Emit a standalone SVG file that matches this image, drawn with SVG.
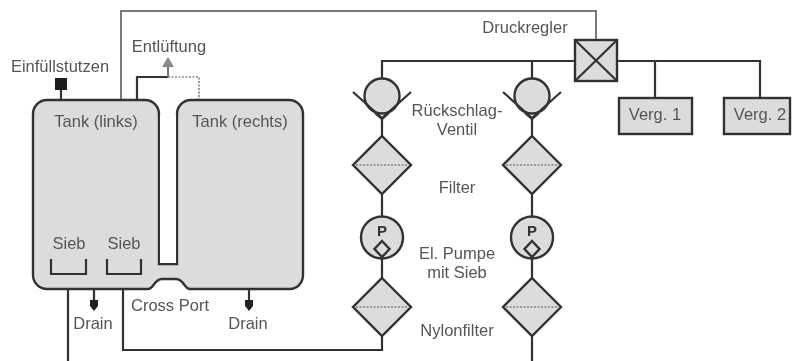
<svg xmlns="http://www.w3.org/2000/svg" width="792" height="361" viewBox="0 0 792 361">
<style>
text{font-family:"Liberation Sans",Arial,sans-serif;font-size:16.500px;fill:#555;text-anchor:middle}
.l{fill:none;stroke:#333;stroke-width:2.200}
.g{fill:#dcdcdc;stroke:#333;stroke-width:2.400}
.d{fill:none;stroke:#555;stroke-width:1.200;stroke-dasharray:2 1.500}
</style>
<defs>
<filter id="soft" x="0" y="0" width="100%" height="100%"><feGaussianBlur stdDeviation="0.550"/></filter>
<g id="check"><circle cx="0" cy="96" r="17.500" class="g"/><path class="l" d="M-29 92L0 118L29 92M-7 113L0 119L7 113"/></g>
<g id="filter"><path class="g" d="M0 -29L29 0L0 29L-29 0Z"/><path class="d" d="M-26 0H26"/></g>
<g id="pump"><circle cx="0" cy="237.500" r="21" class="g"/><path class="g" d="M0 241L7.500 249L0 257L-7.500 249Z"/><text x="0" y="236" style="font-weight:bold;font-size:15px;fill:#333">P</text></g>
</defs>
<g id="diagram" filter="url(#soft)">
<rect width="792" height="361" fill="#fff"/>
<g id="connectors">
<path d="M121 100V11H596V40" fill="none" stroke="#7a7a7a" stroke-width="2"/>
<path class="l" d="M61 100V88M137 100V77H168"/>
<path d="M168 77V64" stroke="#777" stroke-width="2"/>
<path d="M168 57L174 67H162Z" fill="#888"/>
<path class="d" d="M168 77H199V100" stroke-width="1.500"/>
<path class="l" d="M68 274V361M123 274V350H382V336"/>
<path class="l" d="M94 289V300M249 289V300"/>
<path d="M90 300H98V306L94 311L90 306Z" fill="#222"/>
<path d="M245 300H253V306L249 311L245 306Z" fill="#222"/>
<path class="l" d="M382 79V61H575M532 61V79M382 118V137M532 118V137M382 194V216M532 194V216M382 259V278M532 259V278M532 336V361"/>
<path class="l" d="M617 61H760V98M655 61V98"/>
</g>
<g id="tanks">
<path class="g" d="M33 114V275A14 14 0 0 0 47 289H148C154 289 154 279 162 279H176C184 279 184 289 190 289H290A13 14 0 0 0 303 275V114A14 14 0 0 0 289 100H191A14 14 0 0 0 177 114V264H159V114A14 14 0 0 0 145 100H47A14 14 0 0 0 33 114Z"/>
<path d="M160 115H176V263H160Z" fill="#fff"/>
<text x="96" y="127">Tank (links)</text>
<text x="240" y="127">Tank (rechts)</text>
</g>
<g id="sieb-links"><path class="l" d="M51 259V274H86V259"/><text x="69" y="249">Sieb</text></g>
<g id="sieb-rechts"><path class="l" d="M107 259V274H141V259"/><text x="124" y="249">Sieb</text></g>
<g id="einfuellstutzen"><rect x="55" y="78" width="12" height="12" fill="#1a1a1a"/><text x="60" y="72">Einfüllstutzen</text></g>
<g id="entlueftung"><text x="169" y="52">Entlüftung</text></g>
<g id="drain-links"><text x="93" y="329">Drain</text></g>
<g id="drain-rechts"><text x="248" y="329">Drain</text></g>
<g id="cross-port"><text x="170" y="311">Cross Port</text></g>
<g id="ventil-1"><use href="#check" x="382"/></g>
<g id="ventil-2"><use href="#check" x="532"/></g>
<g id="filter-1"><use href="#filter" x="382" y="165"/></g>
<g id="filter-2"><use href="#filter" x="532" y="165"/></g>
<g id="pumpe-1"><use href="#pump" x="382"/></g>
<g id="pumpe-2"><use href="#pump" x="532"/></g>
<g id="nylonfilter-1"><use href="#filter" x="382" y="307"/></g>
<g id="nylonfilter-2"><use href="#filter" x="532" y="307"/></g>
<g id="labels">
<text x="457" y="116">Rückschlag-</text><text x="457" y="135">Ventil</text>
<text x="457" y="193">Filter</text>
<text x="457" y="259">El. Pumpe</text><text x="457" y="278">mit Sieb</text>
<text x="457" y="336">Nylonfilter</text>
</g>
<g id="druckregler"><rect x="575" y="40" width="42" height="41" class="g"/><path class="l" d="M575 40L617 81M617 40L575 81"/><text x="525" y="33">Druckregler</text></g>
<g id="verg-1"><rect x="619" y="98" width="73" height="36" class="g"/><text x="655" y="120">Verg. 1</text></g>
<g id="verg-2"><rect x="724" y="98" width="66" height="36" class="g"/><text x="760" y="120">Verg. 2</text></g>
</g>
</svg>
